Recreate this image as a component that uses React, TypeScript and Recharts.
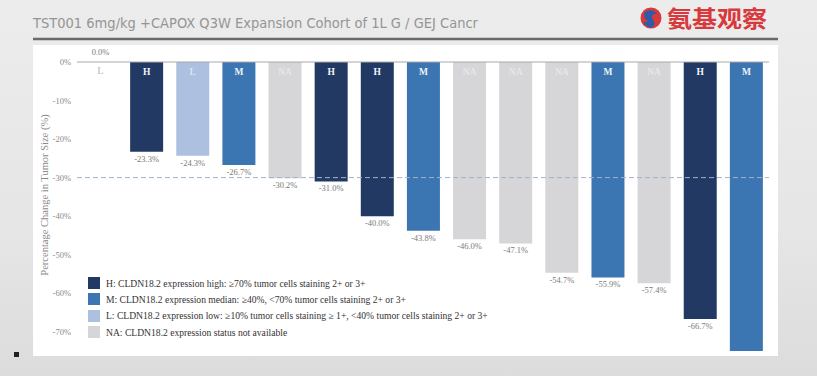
import React from 'react';
import { BarChart, Bar, XAxis, YAxis, ReferenceLine, LabelList, Cell } from 'recharts';

const patients = ['P1','P2','P3','P4','P5','P6','P7','P8','P9','P10','P11','P12','P13','P14','P15'];
const expression = ['L','H','L','M','NA','H','H','M','NA','NA','NA','M','NA','H','M'];
const changes = [0.0,-23.3,-24.3,-26.7,-30.2,-31.0,-40.0,-43.8,-46.0,-47.1,-54.7,-55.9,-57.4,-66.7,-75.0];
const valueLabels = ['0.0%','-23.3%','-24.3%','-26.7%','-30.2%','-31.0%','-40.0%','-43.8%','-46.0%','-47.1%','-54.7%','-55.9%','-57.4%','-66.7%',''];
const yTicks = [0,-10,-20,-30,-40,-50,-60,-70];
const legendItems = [
  { key: 'H', text: 'H: CLDN18.2 expression high: \u226570% tumor cells staining 2+ or 3+' },
  { key: 'M', text: 'M: CLDN18.2 expression median: \u226540%, <70% tumor cells staining 2+ or 3+' },
  { key: 'L', text: 'L: CLDN18.2 expression low: \u226510% tumor cells staining \u2265 1+, <40% tumor cells staining 2+ or 3+' },
  { key: 'NA', text: 'NA: CLDN18.2 expression status not available' },
];
const title = 'TST001  6mg/kg  +CAPOX  Q3W  Expansion  Cohort  of  1L  G / GEJ  Cancr';
const yLabel = 'Percentage Change in Tumor Size (%)';

const colors: Record<string, string> = { H: '#223a63', M: '#3c76b2', L: '#adc0e0', NA: '#d6d6d9' };
const letterColors: Record<string, string> = { H: '#f4f6fa', M: '#eef3fa', L: '#dbe3f1', NA: '#e6e6e9' };

const data = patients.map((p, i) => ({ name: p, value: changes[i], cls: expression[i], lbl: valueLabels[i] }));

const SERIF = '"Liberation Serif", "DejaVu Serif", serif';

const LetterLabel = (props: any) => {
  const { x, y, width, height, value } = props;
  const top = Math.min(y, y + height);
  const isZero = Math.abs(height) < 2;
  return (
    <text x={x + width / 2} y={top + 11} textAnchor="middle" dominantBaseline="middle"
      fontFamily={SERIF} fontSize={9.5} fontWeight="bold"
      fill={isZero ? '#c8ccd4' : letterColors[value]}>{value}</text>
  );
};

const ValueLabel = (props: any) => {
  const { x, y, width, height, value } = props;
  if (!value) return null;
  const bottom = Math.max(y, y + height);
  const isZero = Math.abs(height) < 2;
  return (
    <text x={x + width / 2} y={isZero ? Math.min(y, y + height) - 8 : bottom + 8} textAnchor="middle" dominantBaseline="middle"
      fontFamily={SERIF} fontSize={8.5} fill="#7a7a7a">{value}</text>
  );
};

export default function App() {
  return (
    <div style={{ position: 'absolute', left: 0, top: 0, width: 817, height: 376, overflow: 'hidden',
      background: 'linear-gradient(180deg, #ececec 0%, #e6e6e6 60%, #dcdcdc 100%)' }}>
      <svg width={817} height={376} style={{ position: 'absolute', left: 0, top: 0 }}>
        <rect x={33} y={45} width={745} height={311} fill="#ffffff" />
        <line x1={33} x2={778} y1={39} y2={39} stroke="#6a6a6a" strokeWidth={2.5} />
        <text x={33} y={28} fontFamily='"DejaVu Sans Condensed", "DejaVu Sans", sans-serif' fontSize={14.5}
          fill="#959595" textLength={445} lengthAdjust="spacingAndGlyphs">{title}</text>
        <circle cx={651} cy={18} r={10.5} fill="#d7393c" />
        <path d="M645 12 q6 -4 12 1 q-8 2 -4 7 q4 4 -2 8 q-6 -2 -8 -6 q3 1 5 -1 q-6 -4 -3 -9 z" fill="#2b5ca8" />
        <text x={667} y={27} fontFamily='"Noto Sans CJK SC", sans-serif' fontSize={23} fontWeight="bold"
          fill="#d7393c" textLength={100} lengthAdjust="spacingAndGlyphs">氨基观察</text>
        <text transform="translate(48,195) rotate(-90)" textAnchor="middle" fontFamily={SERIF} fontSize={10.5}
          fill="#8a8a8a">{yLabel}</text>
        <rect x={14} y={352} width={5} height={5} fill="#222" />
      </svg>
      <div style={{ position: 'absolute', left: 0, top: 0 }}>
        <BarChart width={817} height={376} data={data} margin={{ top: 62, right: 48, bottom: 25, left: 0 }}>
          <XAxis dataKey="name" hide />
          <YAxis width={77} domain={[-75, 0]} ticks={yTicks} allowDataOverflow axisLine={false} tickLine={false}
            tickSize={0} tickMargin={6} tickFormatter={(v: number) => `${v}%`}
            tick={{ fontFamily: SERIF, fontSize: 8.5, fill: '#8a8a8a' }} />
          <Bar dataKey="value" barSize={33} isAnimationActive={false}
            minPointSize={(v: number) => (v === 0 ? 1 : 0)}>
            {data.map((d) => (
              <Cell key={d.name} fill={d.value === 0 ? '#ffffff' : colors[d.cls]} />
            ))}
            <LabelList dataKey="cls" content={LetterLabel} />
            <LabelList dataKey="lbl" content={ValueLabel} />
          </Bar>
          <ReferenceLine y={0} stroke="#a8a8a8" strokeWidth={1} zIndex={1000} />
          <ReferenceLine y={-30} stroke="#a3b2c7" strokeDasharray="5 3" strokeWidth={1} zIndex={1000} />
        </BarChart>
      </div>
      <div style={{ position: 'absolute', left: 88, top: 275, fontFamily: SERIF, fontSize: 9.6, color: '#333' }}>
        {legendItems.map((it) => (
          <div key={it.key} style={{ display: 'flex', alignItems: 'center', height: 16.3, whiteSpace: 'nowrap' }}>
            <span style={{ display: 'inline-block', width: 12, height: 12, background: colors[it.key], marginRight: 6 }} />
            <span>{it.text}</span>
          </div>
        ))}
      </div>
    </div>
  );
}
